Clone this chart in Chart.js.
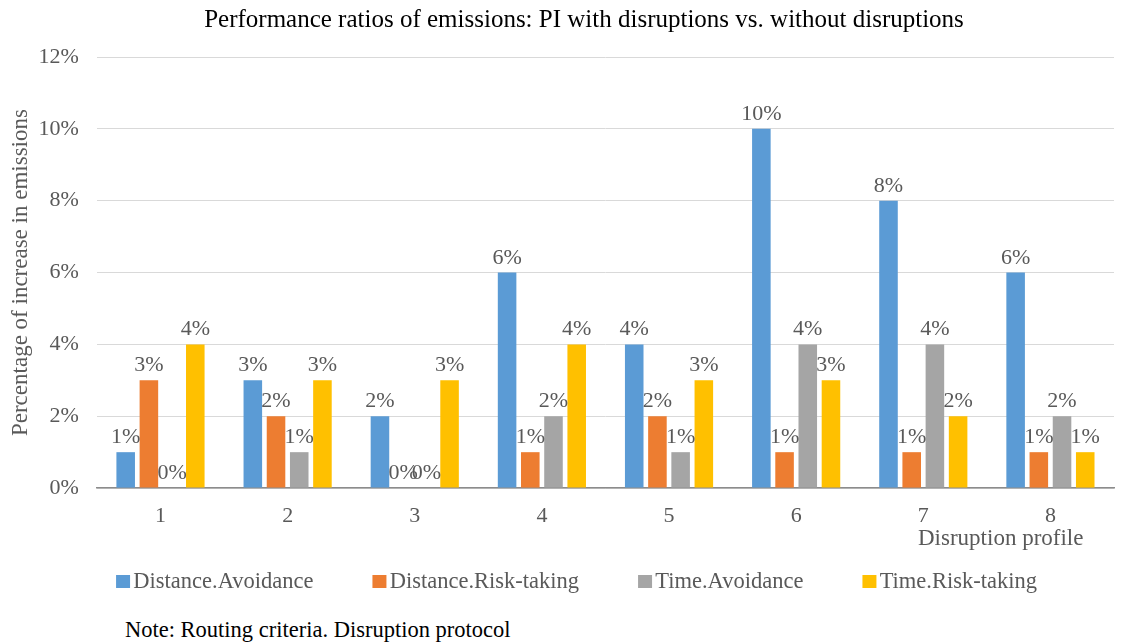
<!DOCTYPE html>
<html>
<head>
<meta charset="utf-8">
<script src="https://cdn.jsdelivr.net/npm/chart.js@4.4.1/dist/chart.umd.min.js"></script>
<style>
  html, body { margin: 0; padding: 0; background: #fff; }
  #wrap { position: relative; width: 1121px; height: 643px; }
  #c { position: absolute; left: 0; top: 0; }
  #note { position: absolute; left: 125px; top: 617px; font-family: "Liberation Serif", "Times New Roman", serif; font-size: 22.5px; line-height: 26px; color: #000; white-space: nowrap; }
</style>
</head>
<body>
<div id="wrap">
  <canvas id="c" width="1121" height="603"></canvas>
  <div id="note">Note: Routing criteria. Disruption protocol</div>
</div>
<script>
const categories = ["1", "2", "3", "4", "5", "6", "7", "8"];
const distanceAvoidance = [1, 3, 2, 6, 4, 10, 8, 6];
const distanceRiskTaking = [3, 2, 0, 1, 2, 1, 1, 1];
const timeAvoidance = [0, 1, 0, 2, 1, 4, 4, 2];
const timeRiskTaking = [4, 3, 3, 4, 3, 3, 2, 1];
const seriesNames = ["Distance.Avoidance", "Distance.Risk-taking", "Time.Avoidance", "Time.Risk-taking"];
const seriesColors = ["#5B9BD5", "#ED7D31", "#A5A5A5", "#FFC000"];
const yTicks = [0, 2, 4, 6, 8, 10, 12];
const xAxisTitle = "Disruption profile";

const FONT = "'Liberation Serif', 'Times New Roman', serif";
const TEXT = "#595959";

const seriesData = [distanceAvoidance, distanceRiskTaking, timeAvoidance, timeRiskTaking];

const LEGEND_PAD = 59;
const LEGEND_SHIFT = 59;
const LEGEND_XSHIFT = 16;

// legend marker: square placed so that it sits close to its text
function markerFor(color) {
  const c = document.createElement('canvas');
  c.width = 30; c.height = 13;
  const g = c.getContext('2d');
  g.fillStyle = color;
  g.fillRect(12, 0, 14, 13);
  return c;
}
const markers = seriesColors.map(markerFor);

const legendSpacing = {
  id: 'legendSpacing',
  beforeInit(chart) {
    const lg = chart.legend;
    if (!lg) return;
    const origFit = lg.fit;
    lg.fit = function () {
      origFit.call(this);
      this.height -= LEGEND_SHIFT;
    };
    const origDraw = lg.draw;
    lg.draw = function () {
      const t = this.top, l = this.left, r = this.right;
      this.top = t - LEGEND_SHIFT;
      this.left = l + LEGEND_XSHIFT;
      this.right = r + LEGEND_XSHIFT;
      origDraw.apply(this, arguments);
      this.top = t; this.left = l; this.right = r;
    };
  },
  afterLayout(chart) {
    if (chart.titleBlock) {
      chart.titleBlock.left += 47;
    }
  }
};

const labelPlugin = {
  id: 'barLabels',
  afterDatasetsDraw(chart) {
    const ctx = chart.ctx;
    ctx.save();
    ctx.font = "22px " + FONT;
    ctx.fillStyle = TEXT;
    ctx.textAlign = 'center';
    ctx.textBaseline = 'alphabetic';
    chart.data.datasets.forEach((ds, i) => {
      const meta = chart.getDatasetMeta(i);
      meta.data.forEach((bar, j) => {
        ctx.fillText(ds.data[j] + "%", bar.x, bar.y - 9);
      });
    });
    ctx.restore();
  },
  afterDraw(chart) {
    const xs = chart.scales.x;
    const ctx = chart.ctx;
    ctx.save();
    ctx.font = "23px " + FONT;
    ctx.fillStyle = TEXT;
    ctx.textAlign = 'right';
    ctx.textBaseline = 'middle';
    ctx.fillText(xAxisTitle, xs.getPixelForValue(categories.length - 1) + 33, xs.top + 51);
    ctx.restore();
  }
};

new Chart(document.getElementById('c'), {
  type: 'bar',
  data: {
    labels: categories,
    datasets: seriesData.map((d, i) => ({
      label: seriesNames[i],
      data: d,
      backgroundColor: seriesColors[i],
      borderWidth: 0,
      barPercentage: 0.8,
      categoryPercentage: 0.73
    }))
  },
  options: {
    responsive: false,
    animation: false,
    layout: { padding: { left: 7, right: 7, top: 0, bottom: 0 } },
    plugins: {
      title: {
        display: true,
        text: "Performance ratios of emissions: PI with disruptions vs. without disruptions",
        font: { family: FONT, size: 25, weight: 'normal', lineHeight: 1.2 },
        color: "#000",
        padding: { top: 5, bottom: 22 }
      },
      legend: {
        position: 'bottom',
        labels: {
          font: { family: FONT, size: 22.5 },
          color: TEXT,
          usePointStyle: true,
          pointStyleWidth: 6,
          boxHeight: 13,
          padding: LEGEND_PAD,
          generateLabels(chart) {
            const items = Chart.defaults.plugins.legend.labels.generateLabels(chart);
            items.forEach((it, i) => { it.pointStyle = markers[i]; });
            return items;
          }
        }
      },
      tooltip: { enabled: false }
    },
    scales: {
      x: {
        grid: { display: false, drawTicks: false },
        border: { display: true, color: "#8C8C8C", width: 1.5 },
        ticks: { font: { family: FONT, size: 22 }, color: TEXT, padding: 15 },
        afterFit(scale) { scale.height += 26; }
      },
      y: {
        min: 0,
        max: 12,
        afterBuildTicks(scale) { scale.ticks = yTicks.map(v => ({ value: v })); },
        grid: { color: "#D9D9D9", drawTicks: false },
        border: { display: false },
        ticks: {
          font: { family: FONT, size: 22 },
          color: TEXT,
          padding: 18,
          callback: v => v + "%"
        },
        title: {
          display: true,
          text: "Percentage of increase in emissions",
          font: { family: FONT, size: 23 },
          color: TEXT,
          padding: { top: 0, bottom: 4 }
        },
        afterFit(scale) { scale.width -= 18; }
      }
    }
  },
  plugins: [legendSpacing, labelPlugin]
});
</script>
</body>
</html>
